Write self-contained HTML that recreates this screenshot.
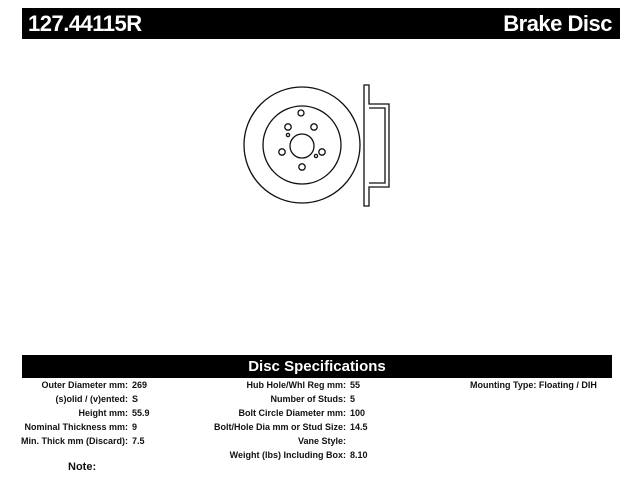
<!DOCTYPE html>
<html><head><style>
body{margin:0;width:640px;height:480px;background:#fff;position:relative;overflow:hidden;font-family:"Liberation Sans",Arial,sans-serif;}
.bar{position:absolute;background:#000;color:#fff;font-weight:bold;}
.r{position:absolute;font-size:9px;font-weight:bold;color:#111;white-space:nowrap;line-height:10px;}
</style></head><body>
<div class="bar" style="left:22px;top:8px;width:598px;height:31px;">
<span style="position:absolute;left:6px;top:3px;font-size:22px;letter-spacing:-0.5px;">127.44115R</span>
<span style="position:absolute;right:8px;top:3px;font-size:22px;letter-spacing:-0.5px;">Brake Disc</span>
</div>
<svg style="position:absolute;left:0;top:0" width="640" height="480">
<g fill="none" stroke="#111" stroke-width="1.3">
<circle cx="302" cy="145" r="58"/>
<circle cx="302" cy="145" r="39"/>
<circle cx="302" cy="146" r="12"/>
<circle cx="288" cy="127" r="3.2"/>
<circle cx="314" cy="127" r="3.2"/>
<circle cx="282" cy="152" r="3.2"/>
<circle cx="322" cy="152" r="3.2"/>
<circle cx="302" cy="167" r="3.2"/>
<circle cx="288" cy="135" r="1.6"/>
<circle cx="316" cy="156" r="1.6"/>
<circle cx="301" cy="113" r="3"/>
<path d="M364 85 L369 85 L369 104 L389 104 L389 187 L369 187 L369 206 L364 206 Z"/>
<path d="M369 108 L385 108 L385 183 L369 183"/>
</g>
</svg>
<div class="bar" style="left:22px;top:355px;width:590px;height:23px;text-align:center;font-size:15px;line-height:23px;">Disc Specifications</div>
<div class="r" style="left:0;top:380px;width:128px;text-align:right">Outer Diameter mm:</div><div class="r" style="left:132px;top:380px">269</div>
<div class="r" style="left:0;top:394px;width:128px;text-align:right">(s)olid / (v)ented:</div><div class="r" style="left:132px;top:394px">S</div>
<div class="r" style="left:0;top:408px;width:128px;text-align:right">Height mm:</div><div class="r" style="left:132px;top:408px">55.9</div>
<div class="r" style="left:0;top:422px;width:128px;text-align:right">Nominal Thickness mm:</div><div class="r" style="left:132px;top:422px">9</div>
<div class="r" style="left:0;top:436px;width:128px;text-align:right">Min. Thick mm (Discard):</div><div class="r" style="left:132px;top:436px">7.5</div>
<div class="r" style="left:68px;top:462px;font-size:11px">Note:</div>
<div class="r" style="left:100px;top:380px;width:246px;text-align:right">Hub Hole/Whl Reg mm:</div><div class="r" style="left:350px;top:380px">55</div>
<div class="r" style="left:100px;top:394px;width:246px;text-align:right">Number of Studs:</div><div class="r" style="left:350px;top:394px">5</div>
<div class="r" style="left:100px;top:408px;width:246px;text-align:right">Bolt Circle Diameter mm:</div><div class="r" style="left:350px;top:408px">100</div>
<div class="r" style="left:100px;top:422px;width:246px;text-align:right">Bolt/Hole Dia mm or Stud Size:</div><div class="r" style="left:350px;top:422px">14.5</div>
<div class="r" style="left:100px;top:436px;width:246px;text-align:right">Vane Style:</div>
<div class="r" style="left:100px;top:450px;width:246px;text-align:right">Weight (lbs) Including Box:</div><div class="r" style="left:350px;top:450px">8.10</div>
<div class="r" style="left:470px;top:380px">Mounting Type: Floating / DIH</div>
</body></html>
